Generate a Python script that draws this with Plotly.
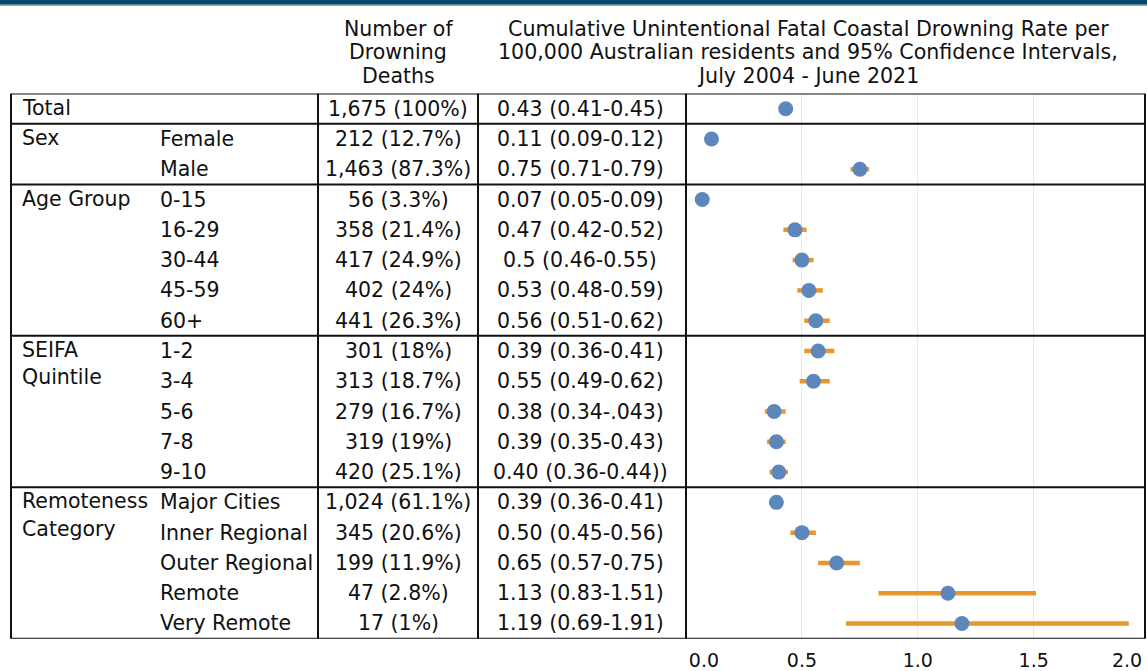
import plotly.graph_objects as go

W, H = 1147, 671

# ---------------- data ----------------
sub_labels = ["", "Female", "Male", "0-15", "16-29", "30-44", "45-59", "60+",
              "1-2", "3-4", "5-6", "7-8", "9-10",
              "Major Cities", "Inner Regional", "Outer Regional", "Remote", "Very Remote"]
deaths_text = ["1,675 (100%)", "212 (12.7%)", "1,463 (87.3%)", "56 (3.3%)", "358 (21.4%)",
               "417 (24.9%)", "402 (24%)", "441 (26.3%)", "301 (18%)", "313 (18.7%)",
               "279 (16.7%)", "319 (19%)", "420 (25.1%)", "1,024 (61.1%)", "345 (20.6%)",
               "199 (11.9%)", "47 (2.8%)", "17 (1%)"]
rate_text = ["0.43 (0.41-0.45)", "0.11 (0.09-0.12)", "0.75 (0.71-0.79)", "0.07 (0.05-0.09)",
             "0.47 (0.42-0.52)", "0.5 (0.46-0.55)", "0.53 (0.48-0.59)", "0.56 (0.51-0.62)",
             "0.39 (0.36-0.41)", "0.55 (0.49-0.62)", "0.38 (0.34-.043)", "0.39 (0.35-0.43)",
             "0.40 (0.36-0.44))", "0.39 (0.36-0.41)", "0.50 (0.45-0.56)", "0.65 (0.57-0.75)",
             "1.13 (0.83-1.51)", "1.19 (0.69-1.91)"]
# plotted values (as drawn in the chart)
rate = [0.43, 0.11, 0.75, 0.07, 0.47, 0.50, 0.53, 0.56, 0.57, 0.55, 0.38, 0.39, 0.40,
        0.39, 0.50, 0.65, 1.13, 1.19]
ci_low = [0.41, 0.09, 0.71, 0.05, 0.42, 0.46, 0.48, 0.51, 0.51, 0.49, 0.34, 0.35, 0.36,
          0.36, 0.45, 0.57, 0.83, 0.69]
ci_high = [0.45, 0.12, 0.79, 0.09, 0.52, 0.55, 0.59, 0.62, 0.64, 0.62, 0.43, 0.43, 0.44,
           0.41, 0.56, 0.75, 1.51, 1.91]
# group labels: (text, row, second line?)
group_labels = [("Total", 0, False), ("Sex", 1, False), ("Age Group", 3, False),
                ("SEIFA", 8, False), ("Quintile", 9, True),
                ("Remoteness", 13, False), ("Category", 14, True)]
group_bounds = [-0.5, 0.5, 2.5, 7.5, 12.5, 17.5]
header_deaths = ["Number of", "Drowning", "Deaths"]
header_rate = ["Cumulative Unintentional Fatal Coastal Drowning Rate per",
               "100,000 Australian residents and 95% Confidence Intervals,",
               "July 2004 - June 2021"]
x_ticks = [0.5, 1.0, 1.5]
x_ticks_edge = [0.0, 2.0]

rows = list(range(len(rate)))

# ---------------- styles ----------------
FONT = "DejaVu Sans"
TXT = 20.5
BLUE = "#5d87ba"
ORANGE = "#e8982a"
LINE = "#111111"

def px(x):
    return x / W

def py(y):
    return 1 - y / H

fig = go.Figure()

ci_x, ci_y = [], []
for i, (lo, hi) in enumerate(zip(ci_low, ci_high)):
    ci_x += [lo, hi, None]
    ci_y += [i, i, None]

fig.add_trace(go.Scatter(x=ci_x, y=ci_y, mode="lines",
                         line=dict(color=ORANGE, width=4.5), hoverinfo="skip"))
fig.add_trace(go.Scatter(x=rate, y=rows, mode="markers",
                         marker=dict(color=BLUE, size=15, line=dict(width=0))))
fig.add_trace(go.Scatter(x=rate, y=rows, mode="markers", xaxis="x2",
                         marker=dict(opacity=0), hoverinfo="skip"))

ann = []
# header
for k, t in enumerate(header_deaths):
    ann.append(dict(text=t, x=px(398), y=py(29 + 23.5 * k), xref="paper", yref="paper",
                    xanchor="center", yanchor="middle", showarrow=False,
                    font=dict(family=FONT, size=20.5, color="#111")))
for k, t in enumerate(header_rate):
    ann.append(dict(text=t, x=px(808), y=py(29 + 23.5 * k), xref="paper", yref="paper",
                    xanchor="center", yanchor="middle", showarrow=False,
                    font=dict(family=FONT, size=20.6, color="#111")))
# table body
for t, r, second in group_labels:
    ann.append(dict(text=t, x=px(20), y=r, xref="paper", yref="y", xanchor="left",
                    yanchor="middle", showarrow=False, yshift=4 if second else 1,
                    font=dict(family=FONT, size=TXT, color="#111")))
for r in rows:
    if sub_labels[r]:
        ann.append(dict(text=sub_labels[r], x=px(158), y=r, xref="paper", yref="y",
                        xanchor="left", yanchor="middle", showarrow=False,
                        font=dict(family=FONT, size=TXT, color="#111")))
    ann.append(dict(text=deaths_text[r], x=px(398), y=r, xref="paper", yref="y",
                    xanchor="center", yanchor="middle", showarrow=False,
                    font=dict(family=FONT, size=TXT, color="#111")))
    ann.append(dict(text=rate_text[r], x=px(580), y=r, xref="paper", yref="y",
                    xanchor="center", yanchor="middle", showarrow=False,
                    font=dict(family=FONT, size=TXT, color="#111")))

shapes = []
# top banner
shapes.append(dict(type="rect", xref="paper", yref="paper", x0=0, x1=1, y0=py(4.8), y1=1,
                   fillcolor="#06476b", line=dict(width=0), layer="above"))
shapes.append(dict(type="line", xref="paper", yref="paper", x0=0, x1=1, y0=py(5.4), y1=py(5.4),
                   line=dict(color="#8eadc9", width=1.2), layer="above"))
# table horizontal lines
for b in group_bounds:
    shapes.append(dict(type="line", xref="paper", yref="y", x0=px(11), x1=px(1145), y0=b, y1=b,
                       line=dict(color=LINE, width=2), layer="above"))
# table vertical lines
for xv in [11, 318, 478, 686, 1145]:
    shapes.append(dict(type="line", xref="paper", yref="y", x0=px(xv), x1=px(xv),
                       y0=group_bounds[0], y1=group_bounds[-1],
                       line=dict(color=LINE, width=2), layer="above"))

dom_x = [px(686), px(1145)]
fig.update_layout(
    width=W, height=H,
    margin=dict(l=0, r=0, t=0, b=0),
    paper_bgcolor="white", plot_bgcolor="white",
    showlegend=False,
    annotations=ann, shapes=shapes,
    xaxis=dict(domain=dom_x, range=[0, 1.98], tickvals=x_ticks,
               ticktext=[f"{v:.1f}" for v in x_ticks],
               showgrid=True, gridcolor="#e9e9e9", gridwidth=1, zeroline=False,
               showline=False, ticks="outside", ticklen=5, tickcolor="rgba(0,0,0,0)",
               tickfont=dict(family=FONT, size=19, color="#111"), anchor="y"),
    xaxis2=dict(overlaying="x", anchor="y", side="bottom", range=[-0.085, 2.085],
                tickvals=x_ticks_edge, ticktext=[f"{v:.1f}" for v in x_ticks_edge],
                showgrid=False, zeroline=False, showline=False,
                ticks="outside", ticklen=5, tickcolor="rgba(0,0,0,0)",
                tickfont=dict(family=FONT, size=19, color="#111")),
    yaxis=dict(domain=[py(641.5), py(94)], range=[17.5, -0.5], showgrid=False,
               zeroline=False, showticklabels=False, ticks="", showline=False),
)

fig.write_html("out.html", config={"displayModeBar": False},
               post_script="document.body.style.margin='0';document.body.style.overflow='hidden';")
